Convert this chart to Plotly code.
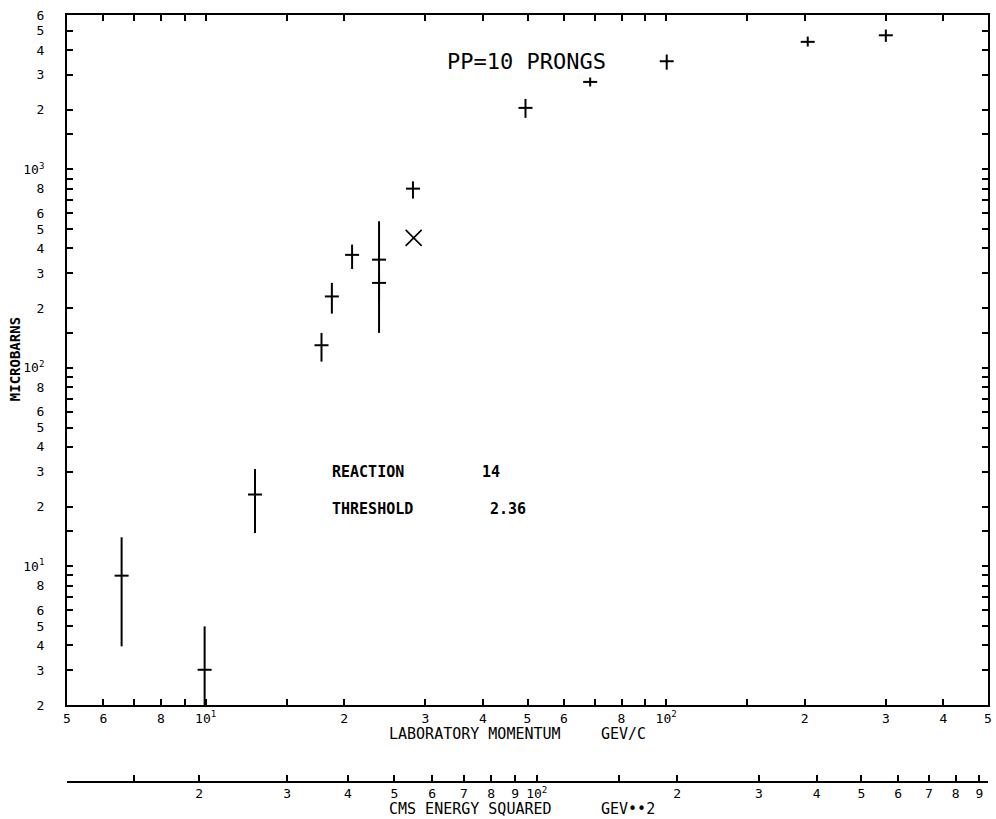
import math
import plotly.graph_objects as go

# Lab momentum (GeV/c) and cross section (microbarns) with error limits
p_lab = [6.57, 9.95, 12.8, 17.85, 18.8, 20.8, 23.8, 23.8, 28.2, 49.5, 68.4, 100.3, 203.0, 300.0]
sigma = [8.97, 3.01, 23.0, 130.0, 229.0, 371.0, 351.0, 268.0, 800.0, 2042.0, 2760.0, 3508.0, 4394.0, 4742.0]
sigma_hi = [14.0, 4.98, 30.9, 150.0, 268.0, 418.0, 548.0, 288.0, 871.0, 2266.0, 2904.0, 3792.0, 4672.0, 5070.0]
sigma_lo = [3.95, 1.0, 14.7, 107.5, 187.6, 315.0, 150.0, 221.0, 713.0, 1819.0, 2618.0, 3184.0, 4160.0, 4394.0]

# Separate measurement drawn with a cross
p_cross = [28.3]
sigma_cross = [452.0]

# Labelled axis ticks
x_ticks = [5, 6, 8, 10, 20, 30, 40, 50, 60, 80, 100, 200, 300, 400, 500]
x_labels = ["5", "6", "8", "10<sup>1</sup>", "2", "3", "4", "5", "6", "8",
            "10<sup>2</sup>", "2", "3", "4", "5"]
y_ticks = [2, 3, 4, 5, 6, 8, 10, 20, 30, 40, 50, 60, 80, 100, 200, 300, 400, 500, 600, 800,
           1000, 2000, 3000, 4000, 5000, 6000]
y_labels = ["2", "3", "4", "5", "6", "8", "10<sup>1</sup>", "2", "3", "4", "5", "6", "8",
            "10<sup>2</sup>", "2", "3", "4", "5", "6", "8", "10<sup>3</sup>",
            "2", "3", "4", "5", "6"]
s_ticks = [20, 30, 40, 50, 60, 70, 80, 90, 100, 200, 300, 400, 500, 600, 700, 800, 900]
s_labels = ["2", "3", "4", "5", "6", "7", "8", "9", "10<sup>2</sup>", "2", "3", "4", "5",
            "6", "7", "8", "9"]

# Unlabelled ticks
x_minor = [7, 9, 15, 70, 90, 150]
y_minor = [7, 9, 15, 70, 90, 150, 700, 900, 1500]
s_minor = [15, 150]

M_P = 0.938  # proton mass, GeV


def p_from_s(s):
    """Lab momentum of a fixed-target pp collision with CMS energy squared s."""
    e = (s - 2 * M_P ** 2) / (2 * M_P)
    return math.sqrt(e * e - M_P * M_P)


s_pos = [p_from_s(s) for s in s_ticks]
s_minor_pos = [p_from_s(s) for s in s_minor]

W, H = 996, 819
ML, MR, MT, MB = 67, 4, 15, 37
PW, PH = W - ML - MR, H - MT - MB
Y_BOTTOM = 705  # bottom edge of the main frame


def px(x):
    return (x - ML) / PW


def py(y):
    return (H - MB - y) / PH


FONT = "DejaVu Sans Mono"
err_up = [h - v for h, v in zip(sigma_hi, sigma)]
err_dn = [v - l for v, l in zip(sigma, sigma_lo)]

fig = go.Figure()
fig.add_trace(go.Scatter(
    x=p_lab, y=sigma, mode="markers",
    marker=dict(symbol="line-ew", size=10, line=dict(width=2, color="black")),
    error_y=dict(type="data", symmetric=False, array=err_up, arrayminus=err_dn,
                 width=0, thickness=2, color="black"),
    showlegend=False, hoverinfo="skip",
))
fig.add_trace(go.Scatter(
    x=p_cross, y=sigma_cross, mode="markers",
    marker=dict(symbol="x-thin", size=16, line=dict(width=1.6, color="black")),
    showlegend=False, hoverinfo="skip",
))
# carrier trace for the CMS energy axis
fig.add_trace(go.Scatter(x=[5, 500], y=[2, 2], xaxis="x2", yaxis="y", mode="lines",
                         line=dict(width=0), showlegend=False, hoverinfo="skip"))

xr = [math.log10(5), math.log10(500)]
yr = [math.log10(2), math.log10(6000)]
tickfont = dict(family=FONT, size=13, color="black")
tick_style = dict(ticks="inside", ticklen=6, tickwidth=1.5, tickcolor="black")


def minor_ticks(vals):
    return dict(tickmode="array", tickvals=vals, **tick_style)


fig.update_layout(
    width=W, height=H,
    margin=dict(l=ML, r=MR, t=MT, b=MB),
    paper_bgcolor="white", plot_bgcolor="white",
    xaxis=dict(type="log", range=xr, domain=[0, 1], anchor="y",
               tickmode="array", tickvals=x_ticks, ticktext=x_labels, **tick_style,
               minor=minor_ticks(x_minor),
               showline=True, linewidth=2, linecolor="black", mirror="ticks",
               showgrid=False, zeroline=False, tickfont=tickfont, ticklabelstandoff=0),
    xaxis2=dict(type="log", range=xr, domain=[0, 1], anchor="free", position=0,
                overlaying="x", side="bottom",
                tickmode="array", tickvals=s_pos, ticktext=s_labels, **tick_style,
                minor=minor_ticks(s_minor_pos),
                showline=True, linewidth=1.5, linecolor="black",
                showgrid=False, zeroline=False, tickfont=tickfont, ticklabelstandoff=0),
    yaxis=dict(type="log", range=yr, domain=[py(Y_BOTTOM), 1],
               tickmode="array", tickvals=y_ticks, ticktext=y_labels, **tick_style,
               minor=minor_ticks(y_minor),
               showline=True, linewidth=2, linecolor="black", mirror="ticks",
               showgrid=False, zeroline=False, tickfont=tickfont,
               ticklabelstandoff=18),
)

ann = [
    dict(text="PP=10 PRONGS", x=px(447), y=py(62), size=22),
    dict(text="<b>REACTION</b>", x=px(331), y=py(472), size=15),
    dict(text="<b>14</b>", x=px(482), y=py(472), size=15),
    dict(text="<b>THRESHOLD</b>", x=px(331), y=py(509), size=15),
    dict(text="<b>2.36</b>", x=px(490), y=py(509), size=15),
    dict(text="LABORATORY MOMENTUM", x=px(388), y=py(734), size=15),
    dict(text="GEV/C", x=px(601), y=py(734), size=15),
    dict(text="CMS ENERGY SQUARED", x=px(388), y=py(809), size=15),
    dict(text="GEV••2", x=px(601), y=py(809), size=15),
]
for a in ann:
    fig.add_annotation(text=a["text"], x=a["x"], y=a["y"], xref="paper", yref="paper",
                       xanchor="left", yanchor="middle", showarrow=False,
                       font=dict(family=FONT, size=a["size"], color="black"))

fig.add_annotation(text="<b>MICROBARNS</b>", x=px(15), y=py(359), xref="paper", yref="paper",
                   textangle=-90, showarrow=False, xanchor="center", yanchor="middle",
                   font=dict(family=FONT, size=14, color="black"))

fig.write_html("out.html")
